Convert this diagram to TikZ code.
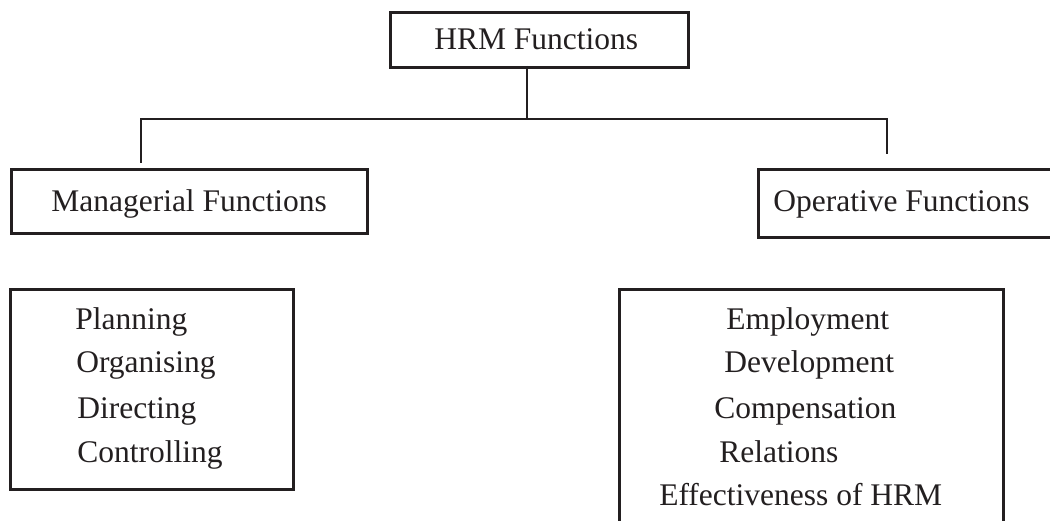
\documentclass[tikz,border=0pt]{standalone}
\usepackage{fontspec}
\setmainfont{Liberation Serif}
\definecolor{ink}{HTML}{231F20}
\begin{document}
\begin{tikzpicture}[x=1pt,y=-1pt,line width=2.6pt,
  box/.style={draw=ink,rectangle,inner sep=0pt,anchor=north west},
  txt/.style={anchor=base west,inner sep=0pt,text=ink,font=\fontsize{31.5}{44}\selectfont},
  wire/.style={draw=ink}]
\useasboundingbox (0,0) rectangle (1050,521);
\clip (0,0) rectangle (1050,521);

% boxes
\node[box,minimum width=298pt,minimum height=55pt] (hrm) at (389,11) {};
\node[box,minimum width=356pt,minimum height=64pt] (mgr) at (10,168) {};
\node[box,minimum width=308pt,minimum height=68pt] (opr) at (757,168) {};
\node[box,minimum width=283pt,minimum height=200pt] (plan) at (9,288) {};
\node[box,minimum width=384pt,minimum height=260pt] (emp) at (618,288) {};

% headings
\node[txt] (thrm) at (433,50) {HRM Functions};
\node[txt] (tmgr) at (50,212) {Managerial Functions};
\node[txt] (topr) at (772,212) {Operative Functions};

% managerial list
\node[txt] (l1) at (74,330) {Planning};
\node[txt] (l2) at (75,373) {Organising};
\node[txt] (l3) at (76,418) {Directing};
\node[txt] (l4) at (76,462) {Controlling};

% operative list
\node[txt] (r1) at (725,330) {Employment};
\node[txt] (r2) at (723,373) {Development};
\node[txt] (r3) at (713,418) {Compensation};
\node[txt] (r4) at (718,462) {Relations};
\node[txt] (r5) at (658,505) {Effectiveness of HRM};

% branch lines
\coordinate (tap) at (527,66);
\coordinate (fork) at (527,119);
\coordinate (lend) at (141,163);
\coordinate (rend) at (887,154);
\draw[wire] (tap) -- (fork);
\draw[wire] (lend) |- (fork) -| (rend);
\end{tikzpicture}
\end{document}
